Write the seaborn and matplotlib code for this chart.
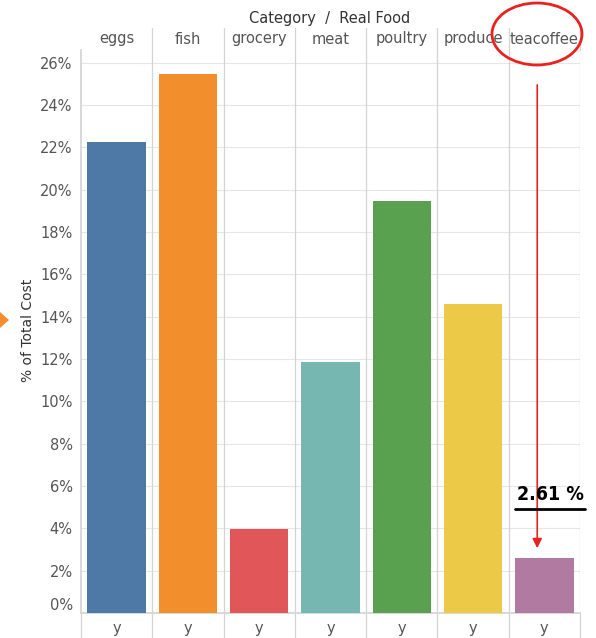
import matplotlib
matplotlib.use("Agg")
import matplotlib.pyplot as plt
from matplotlib.patches import Ellipse, Polygon
from matplotlib.lines import Line2D
import seaborn as sns
import pandas as pd

categories = ["eggs", "fish", "grocery", "meat", "poultry", "produce", "teacoffee"]
pct_total_cost = [22.27, 25.48, 3.97, 11.87, 19.48, 14.60, 2.61]
colors = ["#4e79a7", "#f28e2b", "#e15759", "#76b7b2", "#59a14f", "#edc948", "#b07aa1"]
yticks = list(range(0, 27, 2))
row_label = "y"

df = pd.DataFrame({"Category": categories, "Pct": pct_total_cost})

sns.set_theme(style="white")
plt.rcParams["font.family"] = ["DejaVu Sans"]
TXT = "#555555"
GRID = "#e6e6e6"
SEP = "#d4d4d4"

W, H = 596, 638
fig = plt.figure(figsize=(W / 100, H / 100), dpi=100)
ax = fig.add_axes([81 / W, 1 - 613 / H, (580 - 81) / W, (613 - 50) / H])

sns.barplot(data=df, x="Category", y="Pct", hue="Category", palette=colors,
            order=categories, hue_order=categories, legend=False, width=0.82,
            saturation=1, linewidth=0, ax=ax, zorder=3)

n = len(categories)
ax.set_xlim(-0.5, n - 0.5)
ax.set_ylim(0, 26.6)
ax.set_yticks(yticks)
ax.set_yticklabels([f"{t}%" for t in yticks], color=TXT, fontsize=10.5)
ax.tick_params(axis="y", length=0, pad=6)
ax.get_yticklabels()[0].set_va("bottom")
ax.set_xticks(range(n))
ax.set_xticklabels([row_label] * n, color=TXT, fontsize=10.5)
ax.tick_params(axis="x", length=0, pad=6)
ax.set_xlabel("")
ax.set_ylabel("% of Total Cost", color="#333333", fontsize=10)
ax.yaxis.set_label_coords((35 - 81) / 499, (613 - 330) / 563)

for s in ["top", "right"]:
    ax.spines[s].set_visible(False)
ax.spines["left"].set_color(SEP)
ax.spines["bottom"].set_color(SEP)
ax.yaxis.grid(True, color=GRID, linewidth=0.8, zorder=0)
ax.set_axisbelow(True)

# panel separators running through header, plot and row-label band
for i in range(n):
    xr = i + 0.5
    ax.axvline(xr, color=SEP, linewidth=0.9, zorder=1)
    ax.plot([xr, xr], [1.0, 1.0 + 22 / 563], transform=ax.get_xaxis_transform(),
            color=SEP, linewidth=0.9, clip_on=False)
    ax.plot([xr, xr], [0, -25 / 563], transform=ax.get_xaxis_transform(),
            color=SEP, linewidth=0.9, clip_on=False)
ax.plot([-0.5, -0.5], [0, -25 / 563], transform=ax.get_xaxis_transform(),
        color=SEP, linewidth=0.9, clip_on=False)

# column headers
for i, c in enumerate(categories):
    ax.text(i, 1.0 + 11 / 563, c, transform=ax.get_xaxis_transform(),
            ha="center", va="center", color=TXT, fontsize=10.5)
fig.text(330 / W, 1 - 19 / H, "Category  /  Real Food", ha="center", va="center",
         color="#333333", fontsize=10.5)

# callout for the teacoffee column
ax.annotate("", xy=(n - 1 - 0.1, pct_total_cost[-1] + 0.45),
            xytext=(n - 1 - 0.1, 24.95),
            arrowprops=dict(arrowstyle="-|>", color="#e8231f", lw=1.2,
                            mutation_scale=14, shrinkA=0, shrinkB=0), zorder=5)
ax.text(n - 1 + 0.08, 5.6, f"{pct_total_cost[-1]:.2f} %", ha="center", va="center",
        color="black", fontsize=14, fontweight="bold", fontstretch="condensed", zorder=6)
fig.add_artist(Line2D([515 / W, 585 / W], [1 - 509 / H, 1 - 509 / H],
                      color="black", linewidth=2))
fig.add_artist(Ellipse((537 / W, 1 - 34 / H), 90 / W, 62 / H, fill=False,
                       edgecolor="#e8231f", linewidth=2))
fig.add_artist(Polygon([[0, 1 - 312 / H], [9 / W, 1 - 320 / H], [0, 1 - 328 / H]],
                       closed=True, facecolor="#f28e2b", edgecolor="none"))

fig.savefig("out.png", dpi=100, facecolor="white")
